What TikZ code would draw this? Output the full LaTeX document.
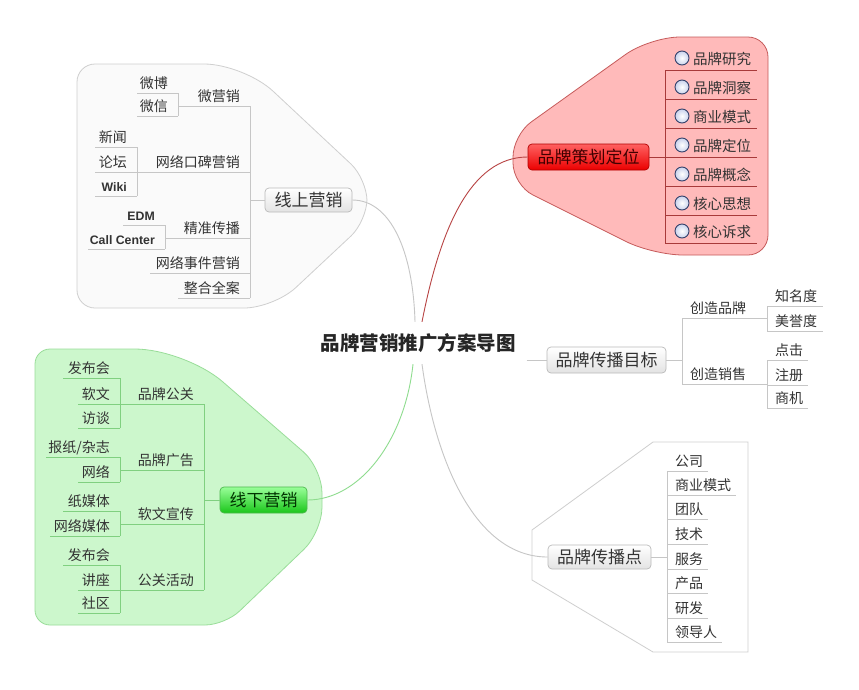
\documentclass[tikz,border=0pt]{standalone}
\usepackage{fontspec}
\setmainfont{Noto Sans CJK SC}
\newfontfamily\latinf{Liberation Sans}
\definecolor{txtc}{HTML}{333333}
\definecolor{grayfill}{HTML}{FAFAFA}
\definecolor{grayedge}{HTML}{CFCFCF}
\definecolor{grayline}{HTML}{C6C6C6}
\definecolor{redfill}{HTML}{FFBABA}
\definecolor{rededge}{HTML}{C65B5B}
\definecolor{redline}{HTML}{A83A3A}
\definecolor{greenfill}{HTML}{CCF7CC}
\definecolor{greenedge}{HTML}{99DD99}
\definecolor{greenline}{HTML}{80D080}
\definecolor{redcurve}{HTML}{B84444}
\definecolor{greencurve}{HTML}{8EDC8E}
\definecolor{markedge}{HTML}{33406A}
\definecolor{markin}{HTML}{C9D2EC}
\newcommand\LItem[6]{% style, name, xL, xR, yline, text
  \coordinate (#2-l) at (#3,#5);
  \coordinate (#2-r) at (#4,#5);
  \node[itm, anchor=base east] (#2) at (#4-10,#5-5) {#6};
  \draw[#1] (#2-l) -- (#2-r);}
\newcommand\RItem[6]{% style, name, xL, xR, yline, text
  \coordinate (#2-l) at (#3,#5);
  \coordinate (#2-r) at (#4,#5);
  \node[itm, anchor=base west] (#2) at (#3+8,#5-5) {#6};
  \draw[#1] (#2-l) -- (#2-r);}
\newcommand\MItem[3]{% name, yline, text
  \coordinate (#1-l) at (665,#2);
  \coordinate (#1-r) at (757,#2);
  \node[itm, font=\fontsize{14.5}{16}\selectfont, anchor=base west] (#1) at (693,#2-6) {#3};
  \node[markball] (#1-m) at (682,#2-12) {};
  \draw[rl] (#1-l) -- (#1-r);}
\newcommand\LatinB[1]{{\latinf\bfseries\fontsize{12.3}{14}\selectfont #1}}
\begin{document}
\begin{tikzpicture}[x=1pt,y=-1pt,
  itm/.style={inner sep=0pt, text=txtc, font=\fontsize{14}{16}\selectfont},
  gl/.style={draw=grayline, line width=0.8pt},
  rl/.style={draw=redline, line width=0.8pt},
  nl/.style={draw=greenline, line width=0.8pt},
  mt/.style={rounded corners=4pt, inner sep=0pt, line width=0.7pt, font=\fontsize{17}{19}\selectfont},
  gtop/.style={mt, draw=grayedge!90!black, top color=white, bottom color=black!11, text=txtc},
  rtop/.style={mt, draw=red!70!black, top color=red!62, bottom color=red!92!black, text=red!25!black},
  ntop/.style={mt, draw=green!60!black!70, top color=green!40, bottom color=green!75!black!90, text=green!20!black},
  markball/.style={circle, minimum size=14pt, inner sep=0pt, draw=markedge, line width=0.9pt, inner color=white, outer color=markin},
  region/.style={line width=0.8pt}]
\useasboundingbox (0,0) rectangle (859,689);
\fill[white] (0,0) rectangle (859,689);

% ---------- regions ----------
\draw[region, draw=grayedge, fill=grayfill]
  (77,186) [rounded corners=18pt] -- (77,64) [rounded corners=40pt] -- (244,64)
  [rounded corners=22pt] -- (367,179) -- (367,221) [rounded corners=30pt] -- (274,308)
  [rounded corners=18pt] -- (77,308) -- cycle;
\draw[region, draw=rededge, fill=redfill]
  (710,37) [rounded corners=20pt] -- (768,37) -- (768,255) [rounded corners=30pt] -- (653,255)
  [rounded corners=22pt] -- (513,185) -- (513,135) [rounded corners=30pt] -- (650,37)
  [sharp corners] -- cycle;
\draw[region, draw=greenedge, fill=greenfill]
  (35,480) [rounded corners=15pt] -- (35,349) [rounded corners=50pt] -- (185,349)
  [rounded corners=25pt] -- (322,468) -- (322,532) [rounded corners=20pt] -- (225,625)
  [rounded corners=15pt] -- (35,625) -- cycle;
\draw[region, draw=grayedge, fill=white]
  (532,555) -- (532,530) -- (653,442) -- (748,442) -- (748,652) -- (653,652) -- (532,580) -- cycle;

% ---------- title & main topics ----------
\node[font=\fontsize{19.5}{22}\selectfont\bfseries, text=black!85, inner xsep=11pt, inner ysep=0pt, minimum height=42pt] (title) at (418,343) {品牌营销推广方案导图};
\node[gtop, minimum width=87pt, minimum height=24pt] (on) at (308.5,200) {线上营销};
\node[rtop, minimum width=121pt, minimum height=26pt] (pl) at (588.5,157) {品牌策划定位};
\node[ntop, minimum width=87pt, minimum height=26pt] (off) at (263.5,500) {线下营销};
\node[gtop, minimum width=119pt, minimum height=26pt] (gm) at (606.5,360) {品牌传播目标};
\node[gtop, minimum width=103pt, minimum height=24pt] (cb) at (599.5,557) {品牌传播点};

% ---------- main curves ----------
\draw[draw=grayline, line width=0.9pt] ([xshift=-3pt]title.north) .. controls (413,250) and (390,200) .. (on.east);
\draw[draw=redcurve, line width=0.9pt] ([xshift=4pt]title.north) .. controls (440,230) and (470,157) .. (pl.west);
\draw[draw=greencurve, line width=0.9pt] ([xshift=-5pt]title.south) .. controls (405,440) and (360,500) .. (off.east);
\draw[draw=grayline, line width=0.9pt] ([xshift=4pt]title.south) .. controls (435,460) and (475,557) .. (cb.west);
\draw[gl] (title.east |- gm.west) -- (gm.west);

% ---------- 线上营销 ----------
\LItem{gl}{wyx}{178}{250}{106}{微营销}
\LItem{gl}{kb}{137}{250}{172}{网络口碑营销}
\LItem{gl}{jz}{165}{250}{238}{精准传播}
\LItem{gl}{sj}{150}{250}{273}{网络事件营销}
\LItem{gl}{zh}{178}{250}{298}{整合全案}
\draw[gl] (wyx-r) -- (zh-r);
\draw[gl] (on.west) -- (on.west -| wyx-r);
\LItem{gl}{wb}{137}{178}{93}{微博}
\LItem{gl}{wx}{137}{178}{116}{微信}
\draw[gl] (wb-r) -- (wx-r);
\LItem{gl}{xw}{95}{137}{147}{新闻}
\LItem{gl}{lt}{95}{137}{172}{论坛}
\LItem{gl}{wk}{95}{137}{196}{\LatinB{Wiki}}
\draw[gl] (xw-r) -- (wk-r);
\LItem{gl}{edm}{123}{165}{225}{\LatinB{EDM}}
\LItem{gl}{cc}{88}{165}{249}{\LatinB{Call Center}}
\draw[gl] (edm-r) -- (cc-r);

% ---------- 品牌策划定位 ----------
\MItem{m1}{70}{品牌研究}
\MItem{m2}{99}{品牌洞察}
\MItem{m3}{128}{商业模式}
\MItem{m4}{157}{品牌定位}
\MItem{m5}{186}{品牌概念}
\MItem{m6}{215}{核心思想}
\MItem{m7}{243}{核心诉求}
\draw[rl] (m1-l) -- (m7-l);
\draw[rl] (pl.east) -- (pl.east -| m1-l);

% ---------- 线下营销 ----------
\LItem{nl}{pg}{120}{204}{404}{品牌公关}
\LItem{nl}{pa}{120}{204}{470}{品牌广告}
\LItem{nl}{rw}{120}{204}{524}{软文宣传}
\LItem{nl}{gh}{120}{204}{590}{公关活动}
\draw[nl] (pg-r) -- (gh-r);
\draw[nl] (off.west) -- (off.west -| pg-r);
\LItem{nl}{fb1}{63}{120}{378}{发布会}
\LItem{nl}{rwn}{78}{120}{404}{软文}
\LItem{nl}{ft}{78}{120}{428}{访谈}
\draw[nl] (fb1-r) -- (ft-r);
\LItem{nl}{bz}{46}{120}{457}{报纸/杂志}
\LItem{nl}{wl}{78}{120}{482}{网络}
\draw[nl] (bz-r) -- (wl-r);
\LItem{nl}{zm}{63}{120}{511}{纸媒体}
\LItem{nl}{wm}{50}{120}{536}{网络媒体}
\draw[nl] (zm-r) -- (wm-r);
\LItem{nl}{fb2}{63}{120}{565}{发布会}
\LItem{nl}{jzw}{78}{120}{590}{讲座}
\LItem{nl}{sq}{78}{120}{613}{社区}
\draw[nl] (fb2-r) -- (sq-r);

% ---------- 品牌传播目标 ----------
\RItem{gl}{czp}{682}{767}{318}{创造品牌}
\RItem{gl}{czx}{682}{767}{384}{创造销售}
\draw[gl] (czp-l) -- (czx-l);
\draw[gl] (gm.east) -- (gm.east -| czp-l);
\RItem{gl}{zmd}{767}{823}{306}{知名度}
\RItem{gl}{myd}{767}{823}{331}{美誉度}
\draw[gl] (zmd-l) -- (myd-l);
\RItem{gl}{dj}{767}{808}{360}{点击}
\RItem{gl}{zc}{767}{808}{385}{注册}
\RItem{gl}{sj2}{767}{808}{408}{商机}
\draw[gl] (dj-l) -- (sj2-l);

% ---------- 品牌传播点 ----------
\RItem{gl}{c1}{667}{708}{471}{公司}
\RItem{gl}{c2}{667}{736}{495}{商业模式}
\RItem{gl}{c3}{667}{708}{519}{团队}
\RItem{gl}{c4}{667}{708}{544}{技术}
\RItem{gl}{c5}{667}{708}{569}{服务}
\RItem{gl}{c6}{667}{708}{593}{产品}
\RItem{gl}{c7}{667}{708}{618}{研发}
\RItem{gl}{c8}{667}{722}{642}{领导人}
\draw[gl] (c1-l) -- (c8-l);
\draw[gl] (cb.east) -- (cb.east -| c1-l);
\end{tikzpicture}
\end{document}
